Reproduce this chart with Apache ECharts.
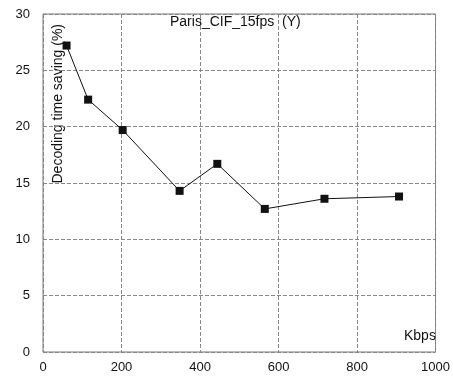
<!DOCTYPE html>
<html>
<head>
<meta charset="utf-8">
<script src="https://cdn.jsdelivr.net/npm/echarts@6/dist/echarts.min.js"></script>
<style>
  html, body { margin: 0; padding: 0; background: #fff; }
  #chart { width: 453px; height: 380px; }
</style>
</head>
<body>
<div id="chart"></div>
<script>
// bitrate (Kbps) and decoding time saving (%)
var bitrates = [60, 115, 203, 348, 444, 565, 717, 907];
var savings = [27.2, 22.4, 19.7, 14.3, 16.7, 12.7, 13.6, 13.8];
var xTicks = [0, 200, 400, 600, 800, 1000];
var yTicks = [0, 5, 10, 15, 20, 25, 30];

var chart = echarts.init(document.getElementById('chart'));
var font = 'Liberation Sans, Arial, sans-serif';

var option = {
  animation: false,
  backgroundColor: '#fff',
  title: {
    text: 'Paris_CIF_15fps  (Y)',
    left: 165,
    top: 10,
    textStyle: { fontFamily: font, fontSize: 14, fontWeight: 'normal', color: '#111' }
  },
  grid: {
    left: 43,
    right: 14,
    top: 14,
    bottom: 28,
    show: true,
    borderColor: '#777',
    borderWidth: 1
  },
  graphic: [
    {
      type: 'text',
      left: 51,
      top: 24,
      rotation: Math.PI / 2,
      style: {
        text: 'Decoding time saving (%)',
        font: '14px ' + font,
        fill: '#111'
      }
    },
    {
      type: 'text',
      left: 404,
      top: 329,
      style: { text: 'Kbps', font: '14px ' + font, fill: '#111' }
    }
  ],
  xAxis: {
    type: 'value',
    min: xTicks[0],
    max: xTicks[xTicks.length - 1],
    interval: 200,
    axisLine: { show: false },
    axisTick: { show: false },
    axisLabel: {
      fontFamily: font, fontSize: 13, color: '#111', margin: 9,
      formatter: function (v) { return String(v); }
    },
    splitLine: { show: true, lineStyle: { color: '#888', type: 'dashed', width: 1 } }
  },
  yAxis: {
    type: 'value',
    min: yTicks[0],
    max: yTicks[yTicks.length - 1],
    interval: 5,
    axisLine: { show: false },
    axisTick: { show: false },
    axisLabel: { fontFamily: font, fontSize: 13, color: '#111', margin: 13 },
    splitLine: { show: true, lineStyle: { color: '#888', type: 'dashed', width: 1 } }
  },
  series: [
    {
      type: 'line',
      data: bitrates.map(function (b, i) { return [b, savings[i]]; }),
      symbol: 'rect',
      symbolSize: 8,
      lineStyle: { color: '#111', width: 1 },
      itemStyle: { color: '#111' }
    }
  ]
};

chart.setOption(option);
</script>
</body>
</html>
